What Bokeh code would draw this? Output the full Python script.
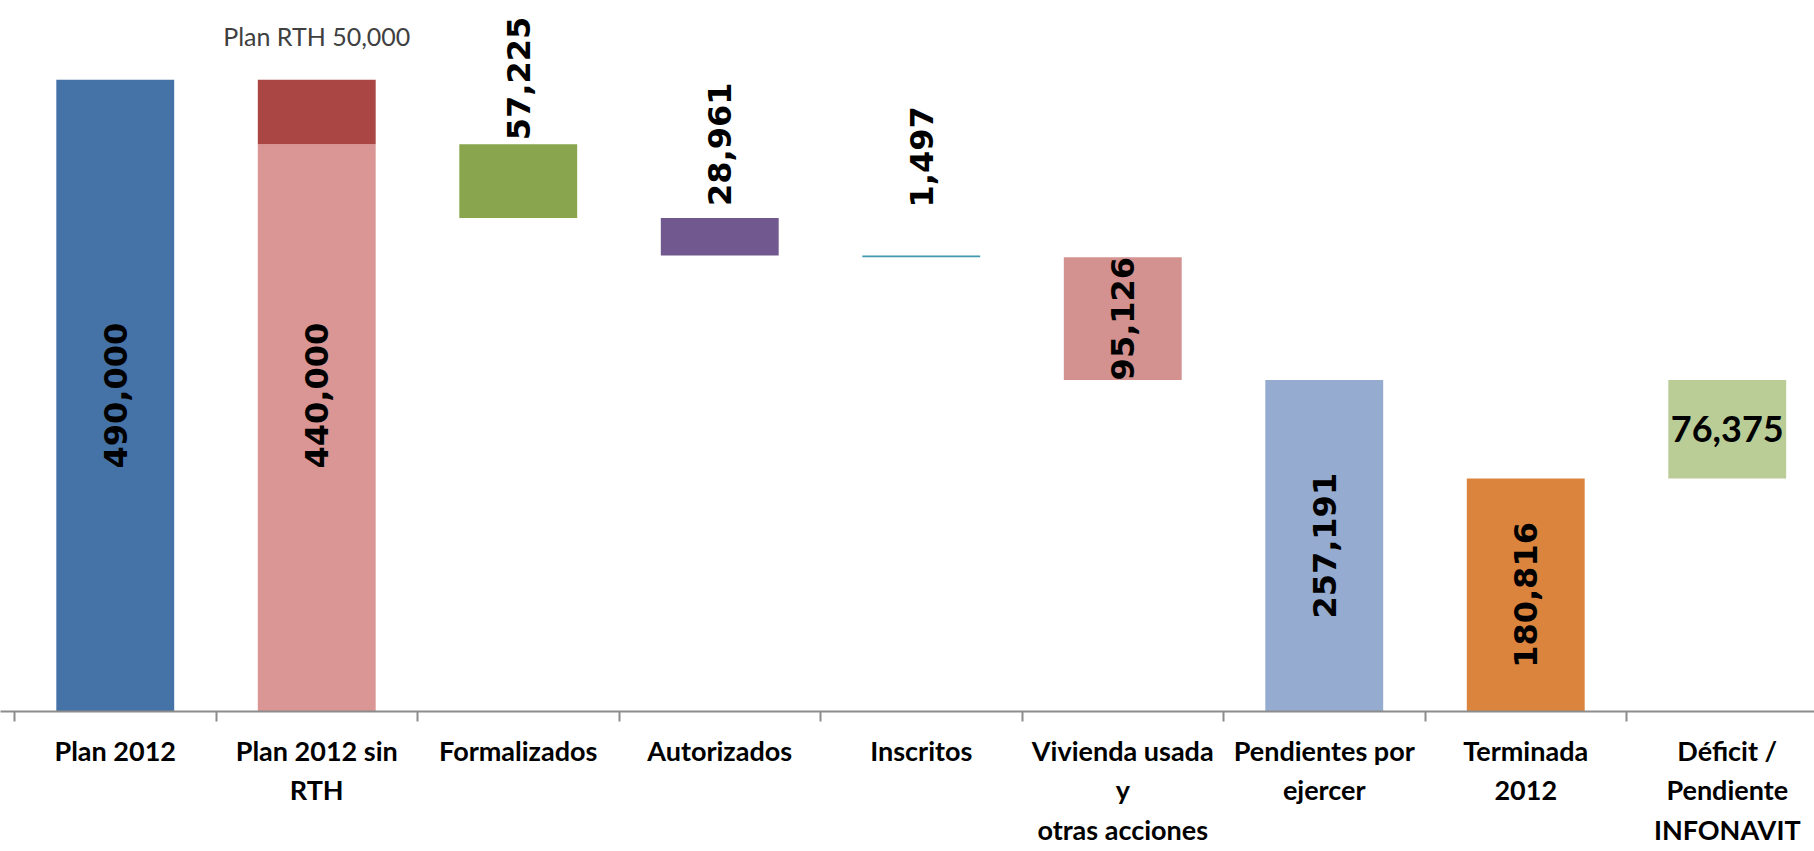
import math
from bokeh.plotting import figure
from bokeh.models import Range1d, FixedTicker, ColumnDataSource
from bokeh.core.properties import value
from bokeh.embed import file_html
from bokeh.resources import INLINE

# ---------------- data ----------------
categories = ["Plan 2012", "Plan 2012 sin\nRTH", "Formalizados", "Autorizados", "Inscritos",
              "Vivienda usada\ny\notras acciones", "Pendientes por\nejercer", "Terminada\n2012",
              "Déficit /\nPendiente\nINFONAVIT"]
values = [490000, 440000, 57225, 28961, 1497, 95126, 257191, 180816, 76375]
rth_value = 50000
rth_label = "Plan RTH 50,000"

# ---------------- styles ----------------
colors = ["#4572A7", "#D99694", "#89A54E", "#71588F", "#4198AF",
          "#D39290", "#95ABD0", "#DB843D", "#BBCD97"]
rth_color = "#AA4643"
# label mode: "c" = centred rotated, "a" = rotated above bar, "h" = horizontal centred
label_mode = ["c", "c", "a", "a", "a", "c", "c", "c", "h"]
label_gap = [0, 0, 4, 12, 48, 0, 0, 0, 0]   # pixel gap above bar for "a" labels

# ---------------- waterfall geometry ----------------
n = len(categories)
bottoms, tops = [0, 0], [values[0], values[1]]
running = values[1]
for v in values[2:6]:
    tops.append(running)
    bottoms.append(running - v)
    running -= v
bottoms.append(0); tops.append(values[6])
bottoms.append(0); tops.append(values[7])
bottoms.append(values[7]); tops.append(values[7] + values[8])
xs = [i + 0.5 for i in range(n)]

# ---------------- layout ----------------
W, H = 1814, 851
cat_px = 201.5
left_pad = 14             # px of frame left of the first category boundary
axis_y = 710.7            # canvas px of the axis line
top_px = 79.3             # canvas px of the 490,000 level
frame_h = axis_y
ymax = values[0] * frame_h / (axis_y - top_px)

p = figure(width=W, height=H, output_backend="svg", toolbar_location=None,
           x_range=Range1d(-left_pad / cat_px, (W - left_pad) / cat_px),
           y_range=Range1d(0, ymax),
           y_axis_location=None, min_border_left=0, min_border_right=0,
           min_border_top=0, min_border_bottom=int(round(H - axis_y)))
p.outline_line_color = None
p.xgrid.visible = False
p.ygrid.visible = False
p.background_fill_color = "white"
p.border_fill_color = "white"

src = ColumnDataSource(dict(x=xs, bottom=bottoms, top=tops, color=colors))
p.vbar(x="x", bottom="bottom", top="top", width=0.585, fill_color="color",
       line_color=None, source=src)
p.vbar(x=[xs[1]], bottom=[values[1]], top=[values[1] + rth_value], width=0.585,
       fill_color=rth_color, line_color=None)

# value labels
lab_font = value("DejaVu Sans")
for i in range(n):
    txt = f"{values[i]:,}"
    if label_mode[i] == "c":
        yc = (values[0] / 2) if i == 1 else (bottoms[i] + tops[i]) / 2
        p.text(x=[xs[i]], y=[yc], text=[txt], angle=math.pi / 2, text_align="center",
               text_baseline="middle", text_font=lab_font, text_font_size="32px",
               text_font_style="bold", text_color="black")
    elif label_mode[i] == "a":
        p.text(x=[xs[i]], y=[tops[i]], text=[txt], angle=math.pi / 2, text_align="left",
               text_baseline="middle", y_offset=-label_gap[i], text_font=lab_font,
               text_font_size="32px", text_font_style="bold", text_color="black")
    else:
        p.text(x=[xs[i]], y=[(bottoms[i] + tops[i]) / 2], text=[txt], text_align="center",
               text_baseline="middle", text_font=value("Lato"), text_font_size="36px",
               text_font_style="bold", text_color="black")

p.text(x=[xs[1]], y=[values[0]], text=[rth_label], text_align="center",
       text_baseline="alphabetic", y_offset=-44, text_font=value("Lato"),
       text_font_size="25px", text_color="#404040")

# x axis
ax = p.xaxis[0]
ax.ticker = FixedTicker(ticks=xs, minor_ticks=list(range(n + 1)))
ax.major_label_overrides = {x: c for x, c in zip(xs, categories)}
ax.major_tick_line_color = None
ax.major_tick_out = 0
ax.major_tick_in = 0
ax.minor_tick_line_color = "#8C8C8C"
ax.minor_tick_line_width = 2
ax.minor_tick_out = 10
ax.minor_tick_in = 0
ax.axis_line_color = "#8C8C8C"
ax.axis_line_width = 2
ax.major_label_text_font = "Lato"
ax.major_label_text_font_style = "bold"
ax.major_label_text_font_size = "27px"
ax.major_label_text_color = "black"
ax.major_label_text_line_height = 1.2
ax.major_label_standoff = 12
ax.major_label_orientation = "horizontal"

open("out.html", "w").write(file_html(p, INLINE))
